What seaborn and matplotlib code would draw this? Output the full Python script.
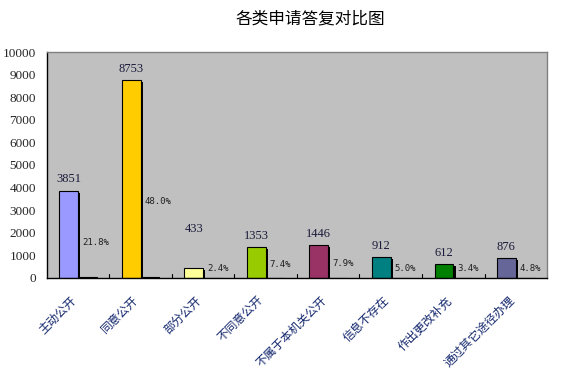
import pandas as pd
import numpy as np
import matplotlib
matplotlib.use('Agg')
import matplotlib.pyplot as plt
import matplotlib.patheffects as pe
from matplotlib.transforms import ScaledTranslation
import seaborn as sns

# data
categories = ['主动公开', '同意公开', '部分公开', '不同意公开', '不属于本机关公开',
              '信息不存在', '作出更改补充', '通过其它途径办理']
counts = [3851, 8753, 433, 1353, 1446, 912, 612, 876]
percents = [21.8, 48.0, 2.4, 7.4, 7.9, 5.0, 3.4, 4.8]
bar_colors = ['#9999FF', '#FFCC00', '#FFFF99', '#99CC00', '#993366',
              '#008080', '#008000', '#666699']
yticks = [0, 1000, 2000, 3000, 4000, 5000, 6000, 7000, 8000, 9000, 10000]
# label offsets (points) above each bar; the 433 label sits higher in the original
label_pad = [4, 4, 24, 4, 4, 4, 4, 4]

df = pd.DataFrame({
    'category': categories * 2,
    'series': ['数量'] * len(categories) + ['比例'] * len(categories),
    'value': counts + percents,
})

sns.set_style('white')
plt.rcParams['font.family'] = ['Noto Sans CJK SC', 'DejaVu Sans']

fig = plt.figure(figsize=(5.64, 3.72), dpi=100)
ax = fig.add_axes([0.083, 0.253, 0.887, 0.607])
ax.set_facecolor('#C0C0C0')

sns.barplot(data=df, x='category', y='value', hue='series', palette=['#9999FF', '#707070'],
            width=0.6, edgecolor='black', linewidth=0.8, ax=ax, legend=False)

shadow = [pe.SimplePatchShadow(offset=(1.6, -1.2), shadow_rgbFace='black', alpha=1.0), pe.Normal()]
for patch, c in zip(ax.containers[0].patches, bar_colors):
    patch.set_facecolor(c)
    patch.set_path_effects(shadow)

# value labels above the count bars
for patch, v, pad in zip(ax.containers[0].patches, counts, label_pad):
    ax.annotate(str(v), (patch.get_x() + patch.get_width() / 2, patch.get_height()),
                xytext=(0, pad), textcoords='offset points', ha='center', va='bottom',
                fontsize=9, family=['Liberation Serif'], color='#1a1a3a')

# percentage labels next to the second series
for patch, p in zip(ax.containers[1].patches, percents):
    y = max(p * 69 + 80, 420)
    ax.text(patch.get_x() + 0.06, y, f'{p:.1f}%',
            ha='left', va='center', fontsize=6.5, family=['DejaVu Sans Mono'], color='#202020')

ax.set_ylim(0, 10000)
ax.set_xlim(-0.5, len(categories) - 0.5)
ax.set_yticks(yticks)
ax.set_yticklabels([str(t) for t in yticks], family=['Liberation Serif'], fontsize=9.5)
ax.set_xticks(range(len(categories)))
ax.set_xticklabels(categories, rotation=45, ha='right', rotation_mode='anchor',
                   fontsize=8.5, color='#14286e')
ax.tick_params(axis='x', length=0, pad=8)
ax.tick_params(axis='y', direction='in', length=4, color='black', pad=7.8)
shift = ScaledTranslation(-8 / 100, -5 / 100, fig.dpi_scale_trans)
for lbl in ax.get_xticklabels():
    lbl.set_transform(lbl.get_transform() + shift)
# boundary ticks between groups
for b in np.arange(0.5, len(categories) - 0.5, 1.0):
    ax.plot([b, b], [0, 180], color='black', lw=0.8)

ax.set_xlabel('')
ax.set_ylabel('')
for s in ['left', 'bottom']:
    ax.spines[s].set_color('black')
    ax.spines[s].set_linewidth(1.0)
for s in ['top', 'right']:
    ax.spines[s].set_color('#808080')
    ax.spines[s].set_linewidth(1.0)

fig.text(0.55, 0.948, '各类申请答复对比图', ha='center', va='center', fontsize=12, color='black')

fig.savefig('out.png', dpi=100, facecolor='white')
